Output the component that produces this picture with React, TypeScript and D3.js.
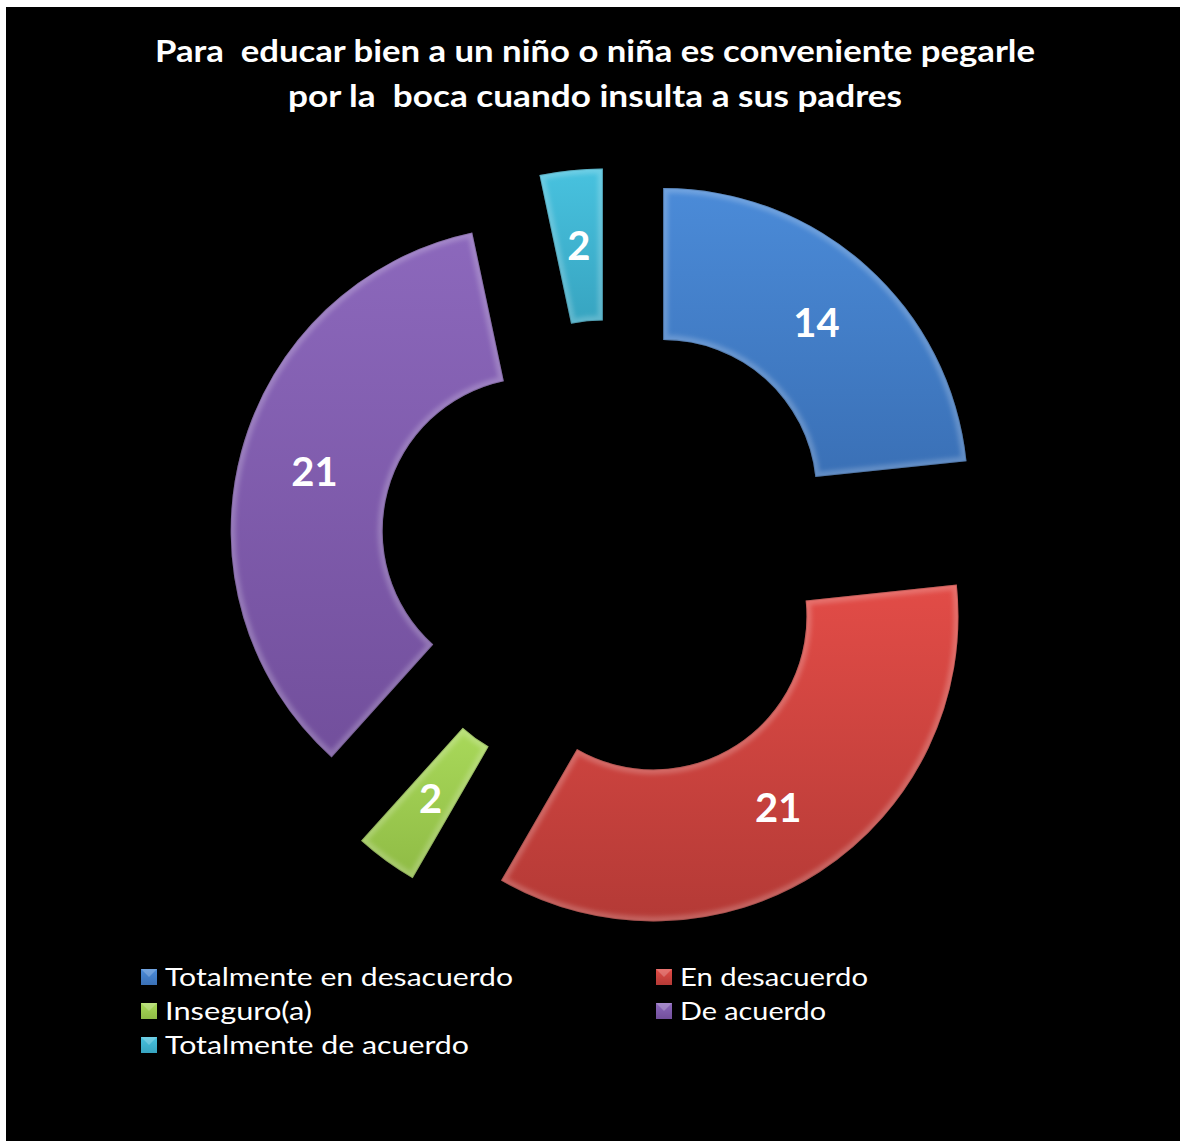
import React from "react";
import * as d3 from "d3";

const categories = [
  "Totalmente en desacuerdo",
  "En desacuerdo",
  "Inseguro(a)",
  "De acuerdo",
  "Totalmente de acuerdo",
];
const values = [14, 21, 2, 21, 2];
const colorsTop = ["#4b8bd8", "#e24c47", "#a9d95a", "#8c68bc", "#48c2df"];
const colorsBottom = ["#3a70b6", "#b43a36", "#8fbb45", "#724f9c", "#37a4c0"];
const titleLines = [
  "Para  educar bien a un niño o niña es conveniente pegarle",
  "por la  boca cuando insulta a sus padres",
];

const W = 1180;
const H = 1141;
const cx = 611;
const cy = 551;
const R = 305;
const r0 = 153;
const explode = 78;

// legend layout: [marker x, row y, text length]
const legendPos: [number, number, number][] = [
  [141, 977, 348],
  [656, 977, 188],
  [141, 1011, 147],
  [656, 1011, 146],
  [141, 1045, 304],
];

export default function App() {
  const pie = d3
    .pie<number>()
    .sort(null)
    .value((d) => d)
    .startAngle(0)
    .endAngle(2 * Math.PI);
  const arcs = pie(values);
  const arc = d3.arc<d3.PieArcDatum<number>>().innerRadius(r0).outerRadius(R);
  const labelArc = d3
    .arc<d3.PieArcDatum<number>>()
    .innerRadius((r0 + R) / 2)
    .outerRadius((r0 + R) / 2);

  return (
    <svg
      width={W}
      height={H}
      style={{ position: "absolute", left: 0, top: 0, display: "block" }}
    >
      <defs>
        {values.map((_, i) => (
          <linearGradient key={i} id={`g${i}`} x1="0" y1="0" x2="0" y2="1">
            <stop offset="0%" stopColor={colorsTop[i]} />
            <stop offset="100%" stopColor={colorsBottom[i]} />
          </linearGradient>
        ))}
        {arcs.map((a, i) => (
          <clipPath key={i} id={`c${i}`}>
            <path d={arc(a) || ""} />
          </clipPath>
        ))}
        <filter id="soft" x="-10%" y="-10%" width="120%" height="120%">
          <feGaussianBlur stdDeviation="2" />
        </filter>
      </defs>
      <rect x={0} y={0} width={W} height={H} fill="#ffffff" />
      <rect x={6} y={7} width={W - 6} height={H - 7} fill="#000000" />

      {titleLines.map((t, i) => (
        <text
          key={i}
          x={595}
          y={62 + i * 45}
          textAnchor="middle"
          fill="#ffffff"
          fontFamily="Lato, 'Open Sans', sans-serif"
          fontWeight="bold"
          fontSize={31}
          textLength={i === 0 ? 880 : 614}
          lengthAdjust="spacingAndGlyphs"
          style={{ whiteSpace: "pre" }}
        >
          {t}
        </text>
      ))}

      {arcs.map((a, i) => {
        const mid = (a.startAngle + a.endAngle) / 2;
        const dx = explode * Math.sin(mid);
        const dy = -explode * Math.cos(mid);
        const [lx, ly] = labelArc.centroid(a);
        return (
          <g key={i} transform={`translate(${cx + dx},${cy + dy})`}>
            <path d={arc(a) || ""} fill={`url(#g${i})`} />
            <g clipPath={`url(#c${i})`}>
              <path
                d={arc(a) || ""}
                fill="none"
                stroke="#ffffff"
                strokeOpacity={0.2}
                strokeWidth={10}
                filter="url(#soft)"
              />
              <path
                d={arc(a) || ""}
                fill="none"
                stroke="#000000"
                strokeOpacity={0.15}
                strokeWidth={2}
              />
            </g>
            <text
              x={lx}
              y={ly + 14}
              textAnchor="middle"
              fill="#ffffff"
              fontFamily="Lato, 'Open Sans', sans-serif"
              fontWeight="bold"
              fontSize={40}
            >
              {values[i]}
            </text>
          </g>
        );
      })}

      {categories.map((c, i) => {
        const [x, y, tl] = legendPos[i];
        return (
          <g key={c}>
            <rect
              x={x}
              y={y - 8}
              width={16}
              height={16}
              fill={`url(#g${i})`}
            />
            <path
              d={`M${x},${y - 8}L${x + 16},${y - 8}L${x + 8},${y}Z`}
              fill="#ffffff"
              fillOpacity={0.22}
            />
            <text
              x={x + 24}
              y={y + 9}
              fill="#ffffff"
              fontFamily="Lato, 'Open Sans', sans-serif"
              fontSize={25}
              textLength={tl}
              lengthAdjust="spacingAndGlyphs"
            >
              {c}
            </text>
          </g>
        );
      })}
    </svg>
  );
}
